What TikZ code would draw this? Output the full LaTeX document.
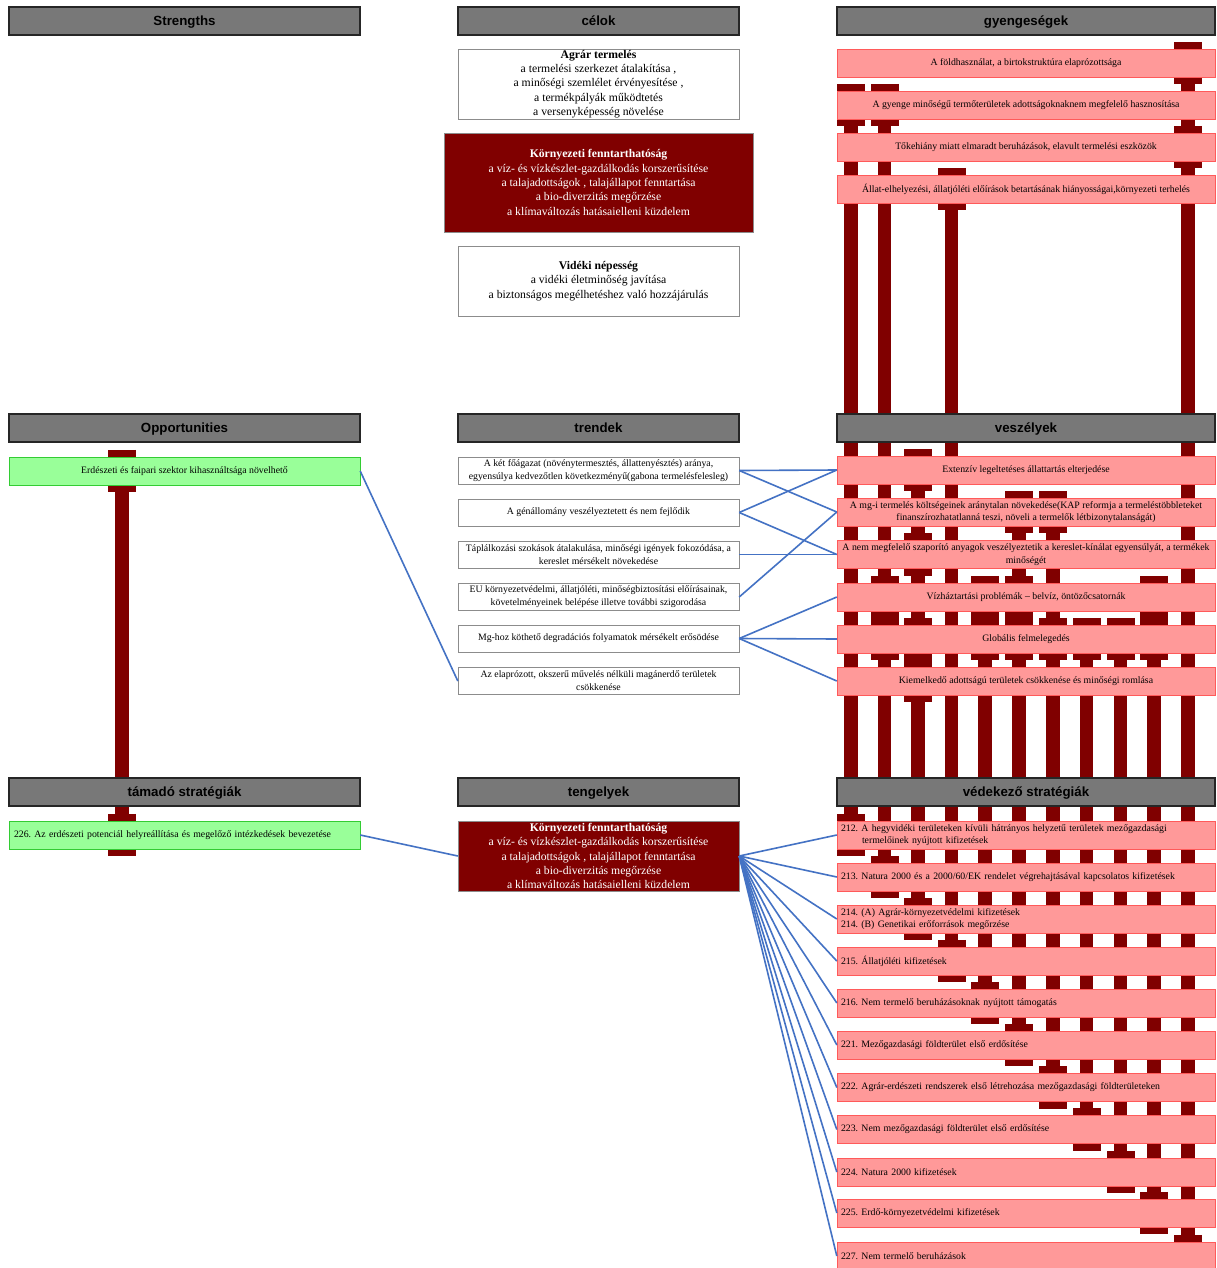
\documentclass[tikz,border=0pt]{standalone}
\usepackage{fontspec}
\setmainfont{Liberation Serif}
\setsansfont{Liberation Sans}
\usetikzlibrary{backgrounds}
\frenchspacing
\definecolor{hdrgray}{HTML}{787878}
\definecolor{darkred}{HTML}{800000}
\definecolor{pinkbox}{HTML}{FF9999}
\definecolor{pinkline}{HTML}{FF5A5A}
\definecolor{greenbox}{HTML}{99FF99}
\definecolor{greenline}{HTML}{33CC33}
\definecolor{linkblue}{HTML}{4472C4}
\definecolor{boxgray}{HTML}{8C8C8C}
\tikzset{
hdr/.style={draw=black!85, line width=1.2pt, fill=hdrgray, minimum height=28pt, inner sep=0pt, text depth=1pt, font=\sffamily\bfseries\fontsize{13.3}{15}\selectfont},
goal/.style={draw=boxgray, fill=white, minimum width=281pt, align=center, inner sep=1pt, font=\fontsize{11.7}{14.4}\selectfont},
goalred/.style={goal, fill=darkred, text=white},
trend/.style={draw=boxgray, fill=white, minimum width=281pt, minimum height=27pt, align=center, inner sep=1pt, font=\fontsize{9.8}{12.8}\selectfont},
weak/.style={draw=pinkline, fill=pinkbox, minimum width=378pt, minimum height=28pt, align=center, inner sep=1pt, font=\fontsize{9.8}{12.5}\selectfont},
strat/.style={weak, text width=370pt, align=left, inner xsep=4pt},
opp/.style={draw=greenline, fill=greenbox, minimum width=351pt, minimum height=28pt, inner sep=1pt, font=\fontsize{9.8}{12.5}\selectfont}
}
\begin{document}
\begin{tikzpicture}[x=1pt, y=-1pt,
  bar/.style={draw=darkred, line width=13.5pt},
  barcap/.style={draw=darkred, line width=28pt, shorten <=-7pt, shorten >=-7pt},
  link/.style={-, line width=1.6pt, draw=linkblue}]
\useasboundingbox (0,0) rectangle (1216,1268);
\node[hdr, minimum width=351pt] (hS) at (184.5,21) {Strengths};
\node[hdr, minimum width=281pt] (hC) at (598.5,21) {célok};
\node[hdr, minimum width=378pt] (hG) at (1026,21) {gyengeségek};
\node[hdr, minimum width=351pt] (hO) at (184.5,428) {Opportunities};
\node[hdr, minimum width=281pt] (hT) at (598.5,428) {trendek};
\node[hdr, minimum width=378pt] (hV) at (1026,428) {veszélyek};
\node[hdr, minimum width=351pt] (hA) at (184.5,792) {támadó stratégiák};
\node[hdr, minimum width=281pt] (hX) at (598.5,792) {tengelyek};
\node[hdr, minimum width=378pt] (hD) at (1026,792) {védekező stratégiák};
\node[goal, minimum height=70pt] (C1) at (598.5,84) {\textbf{Agrár termelés}\\a termelési szerkezet átalakítása ,\\a minőségi szemlélet érvényesítése ,\\a termékpályák működtetés\\a versenyképesség növelése};
\node[goalred, minimum width=309pt, minimum height=99pt] (C2) at (598.5,182.5) {\textbf{Környezeti fenntarthatóság}\\a víz- és vízkészlet-gazdálkodás korszerűsítése\\a talajadottságok , talajállapot fenntartása\\a bio-diverzitás megőrzése\\a klímaváltozás hatásaielleni küzdelem};
\node[goal, minimum height=70pt] (C3) at (598.5,281) {\textbf{Vidéki népesség}\\a vidéki életminőség javítása\\a biztonságos megélhetéshez való hozzájárulás};
\node[weak] (G1) at (1026,63) {A földhasználat, a birtokstruktúra elaprózottsága};
\node[weak] (G2) at (1026,105) {A gyenge minőségű termőterületek adottságoknaknem megfelelő hasznosítása};
\node[weak] (G3) at (1026,147) {Tőkehiány miatt elmaradt beruházások, elavult termelési eszközök};
\node[weak] (G4) at (1026,189) {Állat-elhelyezési, állatjóléti előírások betartásának hiányosságai,környezeti terhelés};
\node[opp] (O1) at (184.5,471) {Erdészeti és faipari szektor kihasználtsága növelhető};
\node[trend] (T1) at (598.5,470.5) {A két főágazat (növénytermesztés, állattenyésztés) aránya,\\egyensúlya kedvezőtlen következményű(gabona termelésfelesleg)};
\node[trend] (T2) at (598.5,512.5) {A génállomány veszélyeztetett és nem fejlődik};
\node[trend] (T3) at (598.5,554.5) {Táplálkozási szokások átalakulása, minőségi igények fokozódása, a\\kereslet mérsékelt növekedése};
\node[trend] (T4) at (598.5,597) {EU környezetvédelmi, állatjóléti, minőségbiztosítási előírásainak,\\követelményeinek belépése illetve további szigorodása};
\node[trend] (T5) at (598.5,638.5) {Mg-hoz köthető degradációs folyamatok mérsékelt erősödése};
\node[trend] (T6) at (598.5,681) {Az elaprózott, okszerű művelés nélküli magánerdő területek\\csökkenése};
\node[weak] (V1) at (1026,470) {Extenzív legeltetéses állattartás elterjedése};
\node[weak] (V2) at (1026,512) {A mg-i termelés költségeinek aránytalan növekedése(KAP reformja a termeléstöbbleteket\\finanszírozhatatlanná teszi, növeli a termelők létbizonytalanságát)};
\node[weak] (V3) at (1026,554.5) {A nem megfelelő szaporító anyagok veszélyeztetik a kereslet-kínálat egyensúlyát, a termékek\\minőségét};
\node[weak] (V4) at (1026,597) {Vízháztartási problémák – belvíz, öntözőcsatornák};
\node[weak] (V5) at (1026,639) {Globális felmelegedés};
\node[weak] (V6) at (1026,681) {Kiemelkedő adottságú területek csökkenése és minőségi romlása};
\node[opp, text width=341pt, align=left, inner xsep=5pt] (S226) at (184.5,835) {226. Az erdészeti potenciál helyreállítása és megelőző intézkedések bevezetése};
\node[goalred, minimum height=70pt] (X1) at (598.5,856) {\textbf{Környezeti fenntarthatóság}\\a víz- és vízkészlet-gazdálkodás korszerűsítése\\a talajadottságok , talajállapot fenntartása\\a bio-diverzitás megőrzése\\a klímaváltozás hatásaielleni küzdelem};
\node[strat] (s212) at (1026,835) {212. A hegyvidéki területeken kívüli hátrányos helyzetű területek mezőgazdasági\\\hspace*{21pt}termelőinek nyújtott kifizetések};
\node[strat] (s213) at (1026,877) {213. Natura 2000 és a 2000/60/EK rendelet végrehajtásával kapcsolatos kifizetések};
\node[strat] (s214) at (1026,919) {214. (A) Agrár-környezetvédelmi kifizetések\\214. (B) Genetikai erőforrások megőrzése};
\node[strat] (s215) at (1026,961) {215. Állatjóléti kifizetések};
\node[strat] (s216) at (1026,1003) {216. Nem termelő beruházásoknak nyújtott támogatás};
\node[strat] (s221) at (1026,1045) {221. Mezőgazdasági földterület első erdősítése};
\node[strat] (s222) at (1026,1087.5) {222. Agrár-erdészeti rendszerek első létrehozása mezőgazdasági földterületeken};
\node[strat] (s223) at (1026,1129.5) {223. Nem mezőgazdasági földterület első erdősítése};
\node[strat] (s224) at (1026,1172) {224. Natura 2000 kifizetések};
\node[strat] (s225) at (1026,1213) {225. Erdő-környezetvédelmi kifizetések};
\node[strat] (s227) at (1026,1256) {227. Nem termelő beruházások};
\coordinate (k0) at (122,0);
\foreach \k/\x in {1/851,2/884.5,3/918,4/951.5,5/985,6/1019,7/1053,8/1086.5,9/1120.5,10/1154,11/1188}
  \coordinate (k\k) at (\x,0);
\begin{scope}[on background layer]
\fill[white] (0,0) rectangle (1216,1268);
\foreach \k/\a/\b in {0/O1/S226,1/G2/s212,2/G2/s213,3/V1/s214,4/G4/s215,5/V4/s216,6/V2/s221,7/V2/s222,8/V5/s223,9/V5/s224,10/V4/s225,11/G1/s227}
  \draw[bar] (k\k |- \a.center) -- (k\k |- \b.center);
\foreach \k/\b in {0/O1,0/S226,1/G2,1/s212,2/G2,2/V4,2/V5,2/s213,3/V1,3/V3,3/V5,3/V6,3/s214,4/G4,4/s215,5/V4,5/V5,5/s216,6/V2,6/V4,6/V5,6/s221,7/V2,7/V5,7/s222,8/V5,8/s223,9/V5,9/s224,10/V4,10/V5,10/s225,11/G1,11/G3,11/s227}
  \draw[barcap] (k\k |- \b.north) -- (k\k |- \b.south);
\end{scope}
\path [link] (O1.east) edge (T6.west);
\path [link] (T1.east) edge (V1.west);
\path [link] (T1.east) edge (V2.west);
\path [link] (T2.east) edge (V1.west);
\path [link] (T2.east) edge (V3.west);
\path [link] (T3.east) edge (V3.west);
\path [link] (T4.east) edge (V2.west);
\path [link] (T5.east) edge (V4.west);
\path [link] (T5.east) edge (V5.west);
\path [link] (T5.east) edge (V6.west);
\path [link] (S226.east) edge (X1.west);
\path [link] (X1.east) edge (s212.west);
\path [link] (X1.east) edge (s213.west);
\path [link] (X1.east) edge (s214.west);
\path [link] (X1.east) edge (s215.west);
\path [link] (X1.east) edge (s216.west);
\path [link] (X1.east) edge (s221.west);
\path [link] (X1.east) edge (s222.west);
\path [link] (X1.east) edge (s223.west);
\path [link] (X1.east) edge (s224.west);
\path [link] (X1.east) edge (s225.west);
\path [link] (X1.east) edge (s227.west);
\end{tikzpicture}
\end{document}
